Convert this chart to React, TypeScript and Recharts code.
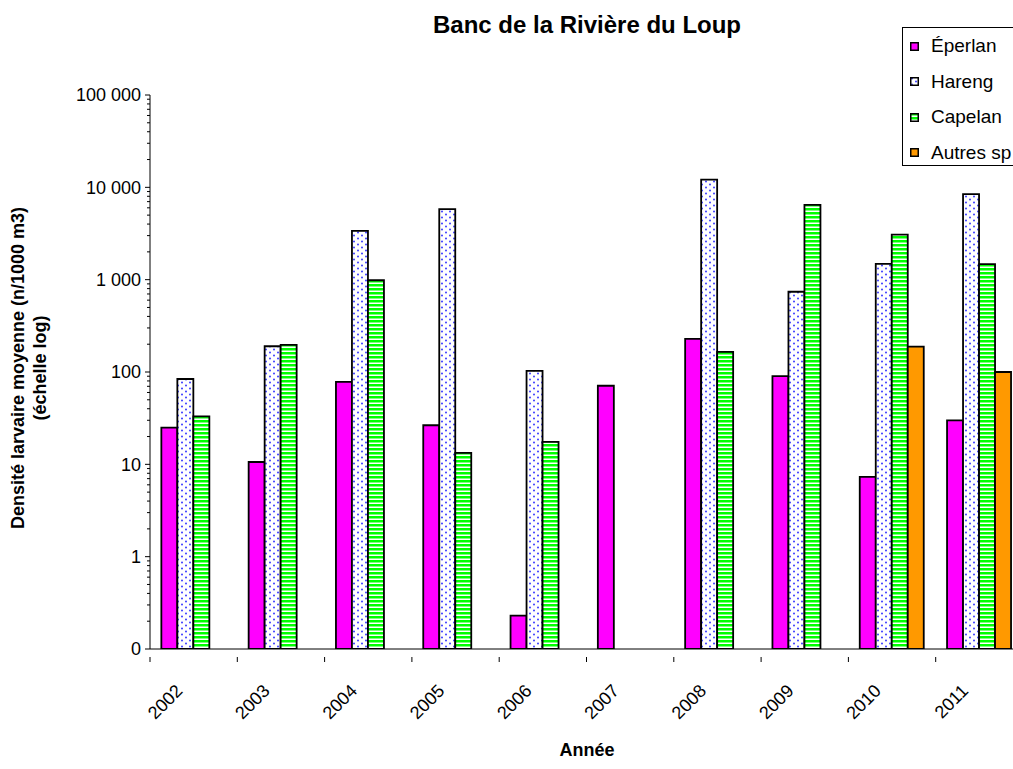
import { Bar, BarChart, XAxis, YAxis } from "recharts";

const years = ["2002", "2003", "2004", "2005", "2006", "2007", "2008", "2009", "2010", "2011"];
const eperlan = [25, 10.6, 78, 26.5, 0.23, 71, 228, 90, 7.3, 30];
const hareng = [84, 190, 3370, 5800, 103, null, 12100, 740, 1480, 8450];
const capelan = [33, 197, 985, 13.3, 17.5, null, 165, 6450, 3070, 1470];
const autres = [null, null, null, null, null, null, null, null, 188, 100];

const decades = [0.1, 1, 10, 100, 1000, 10000, 100000];
const minorSteps = [2, 3, 4, 5, 6, 7, 8, 9];

const data = years.map((year, i) => ({
	year,
	eperlan: eperlan[i],
	hareng: hareng[i],
	capelan: capelan[i],
	autres: autres[i],
}));

const yTicks: number[] = [];
decades.forEach((d, i) => {
	yTicks.push(d);
	if (i < decades.length - 1) minorSteps.forEach((m) => yTicks.push(+(d * m).toPrecision(3)));
});

const FONT = "'Liberation Sans', Arial, sans-serif";
const PLOT_W = 873;
const BAND = PLOT_W / years.length;

const fmt = (v: number) => {
	if (v < 1) return "0";
	return String(Math.round(v)).replace(/\B(?=(\d{3})+(?!\d))/g, " ");
};

function YTick(props: any) {
	const { x, y, payload } = props;
	const v = payload.value;
	const major = decades.some((d) => Math.abs(d - v) < d * 1e-6);
	return (
		<g>
			<line x1={x - (major ? 5 : 3)} x2={x} y1={y} y2={y} stroke="#000" />
			{major && (
				<text x={x - 9} y={y} dy="0.36em" textAnchor="end" fontSize={18} fontFamily={FONT} fill="#000">
					{fmt(v)}
				</text>
			)}
		</g>
	);
}

function XTick(props: any) {
	const { x, y, payload, index } = props;
	const left = x - BAND / 2;
	return (
		<g>
			<line x1={left} x2={left} y1={y} y2={y + 5} stroke="#000" />
			{index === years.length - 1 && <line x1={x + BAND / 2} x2={x + BAND / 2} y1={y} y2={y + 5} stroke="#000" />}
			<text
				x={x - 10}
				y={y + 35}
				textAnchor="end"
				fontSize={18}
				fontFamily={FONT}
				fill="#000"
				transform={`rotate(-45 ${x - 10} ${y + 35})`}
			>
				{payload.value}
			</text>
		</g>
	);
}

const series = [
	{ key: "eperlan", name: "Éperlan", fill: "#ff00ff" },
	{ key: "hareng", name: "Hareng", fill: "url(#dots)" },
	{ key: "capelan", name: "Capelan", fill: "url(#stripes)" },
	{ key: "autres", name: "Autres sp", fill: "#ff9900" },
];

export default function App() {
	return (
		<div
			style={{
				position: "absolute",
				left: 0,
				top: 0,
				width: 1013,
				height: 769,
				overflow: "hidden",
				background: "#fff",
				fontFamily: FONT,
			}}
		>
			<svg width={0} height={0} style={{ position: "absolute" }}>
				<defs>
					<pattern id="dots" width={8} height={6} patternUnits="userSpaceOnUse">
						<rect width={8} height={6} fill="#fff" />
						<circle cx={2} cy={1.5} r={1} fill="#3a3aff" />
						<circle cx={6} cy={4.5} r={1} fill="#3a3aff" />
					</pattern>
					<pattern id="stripes" width={8} height={4} patternUnits="userSpaceOnUse">
						<rect width={8} height={4} fill="#fff" />
						<rect width={8} height={2.5} fill="#00ff00" />
					</pattern>
				</defs>
			</svg>
			<BarChart
				width={1040}
				height={769}
				data={data}
				margin={{ top: 95, right: 1040 - 150 - PLOT_W, bottom: 10, left: 0 }}
				barCategoryGap="13%"
				barGap={0}
			>
				<XAxis
					dataKey="year"
					interval={0}
					height={110}
					tickLine={false}
					tick={(p: any) => <XTick {...p} />}
					axisLine={{ stroke: "#000" }}
				/>
				<YAxis
					type="number"
					scale="log"
					domain={[0.1, 100000]}
					allowDataOverflow
					ticks={yTicks}
					interval={0}
					width={150}
					tickSize={0}
					tickMargin={0}
					tickLine={false}
					tick={(p: any) => <YTick {...p} />}
					axisLine={{ stroke: "#000" }}
				/>
				{series.map((s) => (
					<Bar
						key={s.key}
						dataKey={s.key}
						name={s.name}
						fill={s.fill}
						stroke="#000"
						strokeWidth={1.8}
						isAnimationActive={false}
					/>
				))}
			</BarChart>
			<svg width={1013} height={769} style={{ position: "absolute", left: 0, top: 0, pointerEvents: "none" }}>
				<text x={587} y={33} textAnchor="middle" fontSize={24} fontWeight="bold" fontFamily={FONT}>
					Banc de la Rivière du Loup
				</text>
				<text x={24} y={368} textAnchor="middle" fontSize={18} fontWeight="bold" fontFamily={FONT} transform="rotate(-90 24 368)">
					Densité larvaire moyenne (n/1000 m3)
				</text>
				<text x={46} y={368} textAnchor="middle" fontSize={18} fontWeight="bold" fontFamily={FONT} transform="rotate(-90 46 368)">
					(échelle log)
				</text>
				<text x={587} y={756} textAnchor="middle" fontSize={18} fontWeight="bold" fontFamily={FONT}>
					Année
				</text>
			</svg>
			<div
				style={{
					position: "absolute",
					left: 902,
					top: 27,
					width: 200,
					height: 139,
					border: "1px solid #000",
					background: "#fff",
					boxSizing: "border-box",
				}}
			>
				{series.map((s, i) => (
					<div
						key={s.key}
						style={{
							position: "absolute",
							left: 7,
							top: 18 + i * 35.6 - 11,
							height: 22,
							display: "flex",
							alignItems: "center",
							fontSize: 19,
							whiteSpace: "nowrap",
						}}
					>
						<svg width={9} height={9} style={{ marginRight: 12 }}>
							<rect x={0.75} y={0.75} width={7.5} height={7.5} fill={s.fill} stroke="#000" strokeWidth={1.5} />
						</svg>
						{s.name}
					</div>
				))}
			</div>
		</div>
	);
}
